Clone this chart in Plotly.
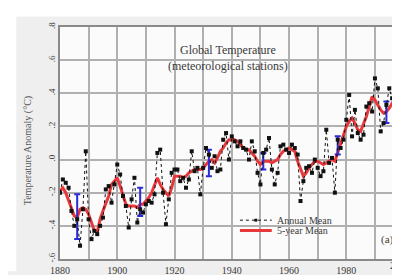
import plotly.graph_objects as go

years = list(range(1880, 1999))

annual_mean = [
    -0.20, -0.12, -0.14, -0.17, -0.31, -0.40, -0.36, -0.52, -0.30, 0.05,
    -0.36, -0.48, -0.43, -0.45, -0.40, -0.35, -0.18, -0.16, -0.26, -0.15,
    -0.03, -0.09, -0.22, -0.28, -0.41, -0.24, -0.11, -0.38, -0.30, -0.32,
    -0.27, -0.25, -0.26, -0.21, 0.04, 0.06, -0.20, -0.39, -0.24, -0.08,
    -0.06, -0.06, -0.13, -0.11, -0.17, -0.12, 0.05, -0.07, -0.05, -0.21,
    -0.05, 0.07, 0.03, -0.05, 0.02, -0.07, -0.06, 0.12, 0.16, 0.00,
    0.14, 0.11, 0.08, 0.11, 0.07, 0.06, 0.00, 0.11, 0.05, -0.08,
    -0.15, 0.04, 0.06, 0.13, -0.06, -0.15, -0.08, 0.08, 0.09, 0.06,
    0.04, 0.09, 0.07, 0.03, -0.25, -0.13, -0.05, -0.04, -0.08, 0.00,
    -0.05, -0.10, -0.07, 0.18, -0.02, 0.01, -0.20, 0.12, 0.07, 0.12,
    0.24, 0.39, 0.14, 0.30, 0.16, 0.12, 0.15, 0.32, 0.34, 0.29,
    0.49, 0.43, 0.17, 0.22, 0.33, 0.43, 0.37, 0.38, 0.66,
]

five_year_mean = [
    -0.19, -0.17, -0.20, -0.25, -0.30, -0.34, -0.35, -0.30, -0.29, -0.30,
    -0.33, -0.38, -0.43, -0.44, -0.36, -0.31, -0.27, -0.22, -0.15, -0.13,
    -0.11, -0.16, -0.21, -0.27, -0.28, -0.28, -0.28, -0.29, -0.27, -0.27,
    -0.25, -0.23, -0.20, -0.15, -0.11, -0.15, -0.18, -0.20, -0.22, -0.17,
    -0.10, -0.10, -0.10, -0.11, -0.10, -0.08, -0.07, -0.06, -0.06, -0.06,
    -0.05, -0.03, -0.01, 0.00, -0.02, 0.01, 0.05, 0.07, 0.10, 0.12,
    0.12, 0.12, 0.11, 0.09, 0.07, 0.06, 0.06, 0.04, 0.02, -0.01,
    -0.03, -0.01, -0.01, -0.01, -0.02, -0.01, 0.00, 0.03, 0.05, 0.06,
    0.07, 0.06, 0.05, -0.01, -0.05, -0.10, -0.08, -0.05, -0.03, -0.01,
    -0.01, -0.02, -0.03, -0.02, -0.01, 0.00, -0.01, 0.04, 0.10, 0.14,
    0.20, 0.23, 0.25, 0.22, 0.18, 0.17, 0.21, 0.26, 0.32, 0.38,
    0.36, 0.33, 0.30, 0.28, 0.29, 0.31, 0.34, 0.37, 0.39,
]

err_years = [1886, 1908, 1932, 1951, 1977, 1994]
err_center = [-0.345, -0.255, -0.02, -0.01, 0.085, 0.285]
err_half = [0.135, 0.085, 0.08, 0.05, 0.055, 0.065]

x_grid_vals = [1880, 1890, 1900, 1910, 1920, 1930, 1940, 1950, 1960, 1970, 1980, 1990]
x_grid_text = ["1880", "", "1900", "", "1920", "", "1940", "", "1960", "", "1980", ""]
y_tick_vals = [0.8, 0.6, 0.4, 0.2, 0.0, -0.2, -0.4, -0.6]
y_tick_text = [".8", ".6", ".4", ".2", ".0", "-.2", "-.4", "-.6"]

SERIF = "Liberation Serif, Times New Roman, serif"
TXT = "#3a3a3a"
RED = "#e8383b"
BLUE = "#2b2bd9"
GRID = "#b0b0b0"

fig = go.Figure()

fig.add_trace(go.Scatter(
    x=years, y=five_year_mean, mode="lines",
    line=dict(color=RED, width=3),
    name="5-year Mean", showlegend=False,
))
fig.add_trace(go.Scatter(
    x=err_years, y=err_center, mode="markers",
    marker=dict(size=1, color=BLUE),
    error_y=dict(type="data", array=err_half, color=BLUE, thickness=2, width=3),
    showlegend=False,
))
fig.add_trace(go.Scatter(
    x=years, y=annual_mean, mode="lines+markers",
    line=dict(color="#111111", width=1, dash="dot"),
    marker=dict(symbol="square", size=4, color="#111111"),
    name="Annual Mean", showlegend=False,
))

X0, X1, Y0, Y1 = 52, 393, 19, 264
def px(x):
    return (x - X0) / (X1 - X0)
def py(y):
    return (Y1 - y) / (Y1 - Y0)

shapes = [
    dict(type="rect", xref="paper", yref="paper",
         x0=px(-2), x1=px(8), y0=py(277), y1=py(-2),
         fillcolor="white", line=dict(width=0), layer="above"),
    dict(type="rect", xref="paper", yref="paper",
         x0=px(-2), x1=px(402), y0=py(8), y1=py(-2),
         fillcolor="white", line=dict(width=0), layer="above"),
    dict(type="line", xref="paper", yref="paper",
         x0=px(233), x1=px(265), y0=py(223), y1=py(223),
         line=dict(color="#111111", width=1, dash="dot")),
    dict(type="rect", xref="paper", yref="paper",
         x0=px(247.5), x1=px(250.5), y0=py(224.5), y1=py(221.5),
         fillcolor="#111111", line=dict(width=0)),
    dict(type="line", xref="paper", yref="paper",
         x0=px(233), x1=px(265), y0=py(234), y1=py(234),
         line=dict(color=RED, width=3)),
]

def ann(text, x, y, size, xanchor="center", color=TXT, angle=0):
    return dict(text=text, xref="paper", yref="paper", x=px(x), y=py(y),
                xanchor=xanchor, yanchor="middle", showarrow=False,
                textangle=angle, font=dict(family=SERIF, size=size, color=color))

annotations = [
    ann("Global Temperature", 221, 43, 12),
    ann("(meteorological stations)", 221, 60, 12),
    ann("Annual Mean", 268, 223, 10, xanchor="left"),
    ann("5-year Mean", 268, 234, 10, xanchor="left"),
    ann("(a)", 381, 243, 11),
    ann("Temperature Anomaly (°C)", 20, 150, 10, color="#555555", angle=-90),
    ann("2000", 394, 271, 10),
]

fig.update_layout(
    width=400, height=275,
    margin=dict(l=X0, r=400 - X1, t=Y0, b=275 - Y1),
    paper_bgcolor="#efefef", plot_bgcolor="#fbfbfb",
    showlegend=False,
    shapes=shapes, annotations=annotations,
    xaxis=dict(
        range=[1880, 1998.4], tickvals=x_grid_vals, ticktext=x_grid_text,
        showgrid=True, gridcolor=GRID, gridwidth=1.5,
        showline=True, linecolor="#8a8a8a", linewidth=1.5, mirror=True,
        zeroline=False, ticks="", ticklabelstandoff=1,
        tickfont=dict(family=SERIF, size=10, color=TXT),
    ),
    yaxis=dict(
        range=[-0.6, 0.8], tickvals=y_tick_vals, ticktext=y_tick_text,
        showgrid=True, gridcolor=GRID, gridwidth=1.5,
        showline=True, linecolor="#8a8a8a", linewidth=1.5, mirror=True,
        zeroline=False, ticks="", tickangle=-90,
        tickfont=dict(family=SERIF, size=9, color=TXT),
    ),
)

fig.write_html("out.html")
